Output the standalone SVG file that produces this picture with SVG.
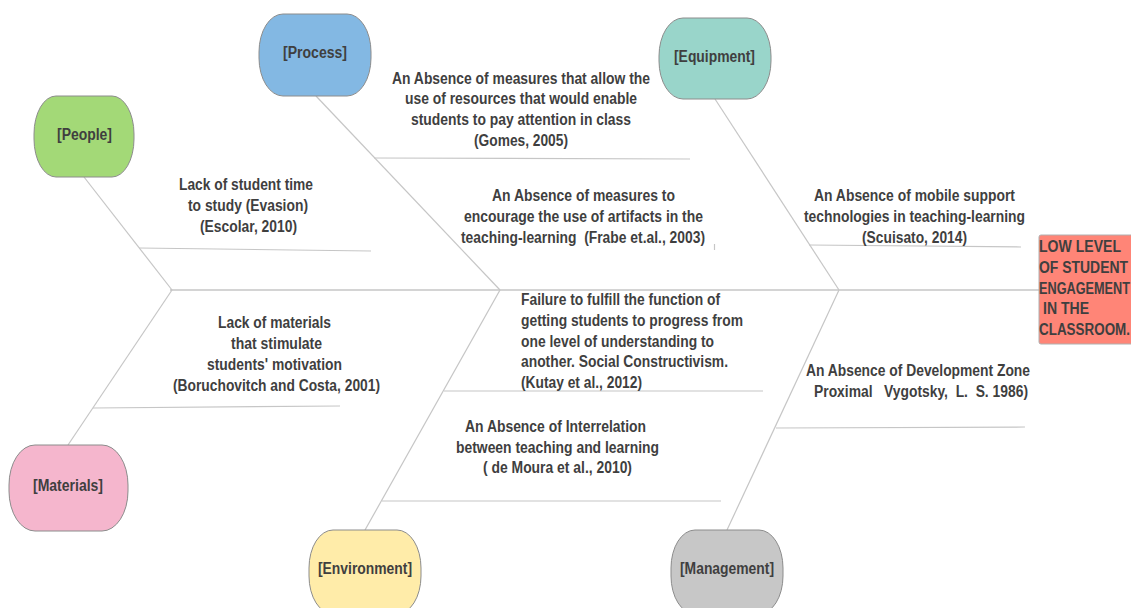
<svg xmlns="http://www.w3.org/2000/svg" width="1131" height="608" viewBox="0 0 1131 608">
<style>
text{font-family:"Liberation Sans",Arial,sans-serif;font-size:16px;font-weight:700;fill:#3f3f3f;text-anchor:middle}
.l{text-anchor:start}
.n{stroke:#8c8c8c;stroke-width:1}
#connectors line{stroke:#c6c6c6;stroke-width:1.2;fill:none}
#connectors .spine{stroke:#d4d4d4;stroke-width:2}
</style>
<rect width="1131" height="608" fill="#fff"/>
<g id="connectors">
<line class="spine" x1="170" y1="290" x2="1040" y2="290"/>
<line x1="84" y1="177" x2="172" y2="290"/>
<line x1="172" y1="290" x2="68" y2="445"/>
<line x1="139" y1="248" x2="371" y2="251"/>
<line x1="93" y1="408" x2="340" y2="406"/>
<line x1="316" y1="96" x2="500" y2="290"/>
<line x1="500" y1="290" x2="365" y2="530"/>
<line x1="374" y1="158" x2="690" y2="159"/>
<line x1="444" y1="391" x2="763" y2="391"/>
<line x1="382" y1="501" x2="721" y2="501"/>
<line x1="715" y1="99" x2="839" y2="290"/>
<line x1="839" y1="290" x2="727" y2="530"/>
<line x1="809" y1="245" x2="1021" y2="247"/>
<line x1="776" y1="428" x2="1025" y2="427"/>
<line x1="714.500" y1="244" x2="714.500" y2="250"/>
</g>
<g id="people"><rect class="n" x="34" y="96" width="100" height="81" rx="22" ry="38" fill="#a3d977"/><text x="84.500" y="140" textLength="55" lengthAdjust="spacingAndGlyphs">[People]</text></g>
<g id="process"><rect class="n" x="259" y="14" width="112" height="82" rx="24" ry="38" fill="#83b8e3"/><text x="315" y="58" textLength="64" lengthAdjust="spacingAndGlyphs">[Process]</text></g>
<g id="equipment"><rect class="n" x="659" y="18" width="112" height="81" rx="24" ry="38" fill="#99d5ca"/><text x="714.500" y="62" textLength="81" lengthAdjust="spacingAndGlyphs">[Equipment]</text></g>
<g id="materials"><rect class="n" x="9" y="445" width="119" height="86" rx="26" ry="40" fill="#f5b6cd"/><text x="68" y="491" textLength="70" lengthAdjust="spacingAndGlyphs">[Materials]</text></g>
<g id="environment"><rect class="n" x="309" y="530" width="112" height="84" rx="24" ry="38" fill="#ffeca9"/><text x="365" y="574" textLength="94" lengthAdjust="spacingAndGlyphs">[Environment]</text></g>
<g id="management"><rect class="n" x="671" y="530" width="112" height="84" rx="24" ry="38" fill="#c7c7c7"/><text x="727" y="574" textLength="94" lengthAdjust="spacingAndGlyphs">[Management]</text></g>
<g id="effect"><rect x="1039" y="235" width="100" height="109" rx="2" fill="#ff8577" stroke="#b0b0b0" stroke-width="1"/>
<text class="l" x="1039" y="252" textLength="82" lengthAdjust="spacingAndGlyphs">LOW LEVEL</text><text class="l" x="1039" y="273" textLength="89" lengthAdjust="spacingAndGlyphs">OF STUDENT</text><text class="l" x="1039" y="294" textLength="91" lengthAdjust="spacingAndGlyphs">ENGAGEMENT</text><text class="l" x="1043" y="314" textLength="46" lengthAdjust="spacingAndGlyphs">IN THE</text><text class="l" x="1039" y="335" textLength="91" lengthAdjust="spacingAndGlyphs">CLASSROOM.</text></g>
<g id="labels" lengthAdjust="spacingAndGlyphs">
<text x="246" y="190" textLength="134" lengthAdjust="spacingAndGlyphs">Lack of student time</text><text x="248" y="211" textLength="120" lengthAdjust="spacingAndGlyphs">to study (Evasion)</text><text x="248.500" y="232" textLength="97" lengthAdjust="spacingAndGlyphs">(Escolar, 2010)</text>
<text x="521" y="84" textLength="258" lengthAdjust="spacingAndGlyphs">An Absence of measures that allow the</text><text x="521" y="104" textLength="232" lengthAdjust="spacingAndGlyphs">use of resources that would enable</text><text x="521" y="125" textLength="220" lengthAdjust="spacingAndGlyphs">students to pay attention in class</text><text x="521" y="146" textLength="94" lengthAdjust="spacingAndGlyphs">(Gomes, 2005)</text>
<text x="583.500" y="201" textLength="183" lengthAdjust="spacingAndGlyphs">An Absence of measures to</text><text x="583.500" y="222" textLength="239" lengthAdjust="spacingAndGlyphs">encourage the use of artifacts in the</text><text x="583" y="243" textLength="244" lengthAdjust="spacingAndGlyphs" xml:space="preserve">teaching-learning  (Frabe et.al., 2003)</text>
<text x="914.500" y="201" textLength="201" lengthAdjust="spacingAndGlyphs">An Absence of mobile support</text><text x="914.500" y="222" textLength="221" lengthAdjust="spacingAndGlyphs">technologies in teaching-learning</text><text x="914.500" y="243" textLength="105" lengthAdjust="spacingAndGlyphs">(Scuisato, 2014)</text>
<text x="274.500" y="328" textLength="113" lengthAdjust="spacingAndGlyphs">Lack of materials</text><text x="276.500" y="349" textLength="91" lengthAdjust="spacingAndGlyphs">that stimulate</text><text x="274.500" y="370" textLength="135" lengthAdjust="spacingAndGlyphs">students' motivation</text><text x="276.500" y="391" textLength="207" lengthAdjust="spacingAndGlyphs">(Boruchovitch and Costa, 2001)</text>
<text class="l" x="521" y="305" textLength="199" lengthAdjust="spacingAndGlyphs">Failure to fulfill the function of</text><text class="l" x="521" y="326" textLength="222" lengthAdjust="spacingAndGlyphs">getting students to progress from</text><text class="l" x="521" y="347" textLength="193" lengthAdjust="spacingAndGlyphs">one level of understanding to</text><text class="l" x="521" y="367" textLength="207" lengthAdjust="spacingAndGlyphs">another. Social Constructivism.</text><text class="l" x="521" y="388" textLength="121" lengthAdjust="spacingAndGlyphs">(Kutay et al., 2012)</text>
<text x="555.500" y="432" textLength="181" lengthAdjust="spacingAndGlyphs">An Absence of Interrelation</text><text x="557.500" y="453" textLength="203" lengthAdjust="spacingAndGlyphs">between teaching and learning</text><text x="557.500" y="473" textLength="149" lengthAdjust="spacingAndGlyphs" xml:space="preserve">( de Moura et al., 2010)</text>
<text x="918" y="376" textLength="224" lengthAdjust="spacingAndGlyphs">An Absence of Development Zone</text><text x="921" y="397" textLength="214" lengthAdjust="spacingAndGlyphs" xml:space="preserve">Proximal   Vygotsky,  L.  S. 1986)</text>
</g>
</svg>
